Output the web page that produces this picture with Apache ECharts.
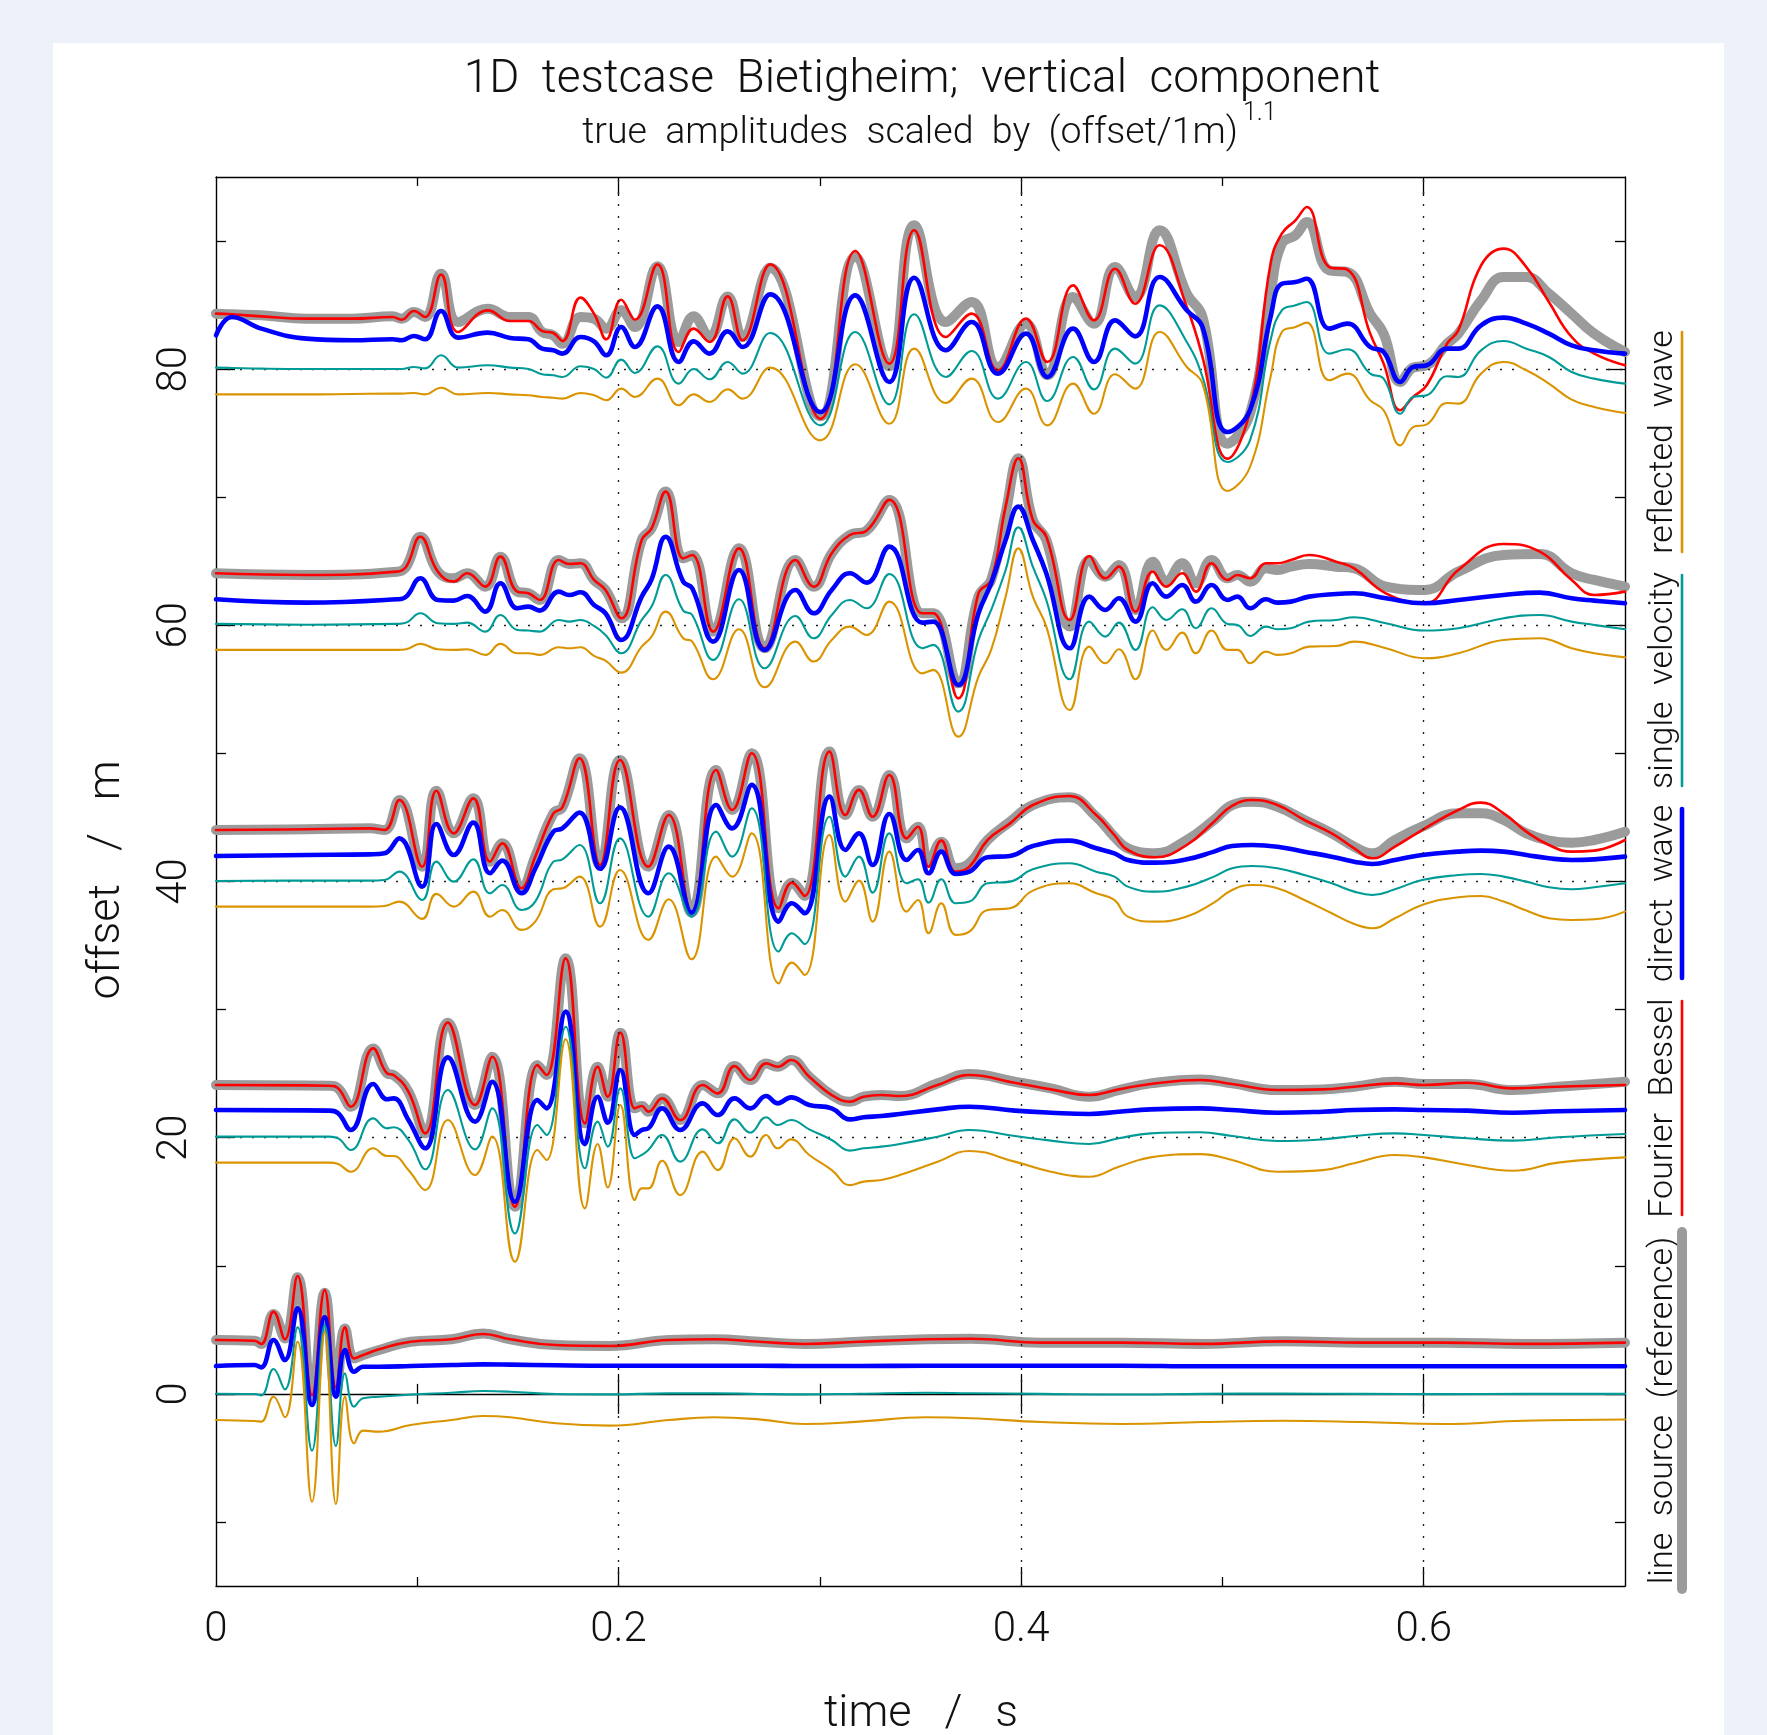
<!DOCTYPE html>
<html><head><meta charset="utf-8">
<script src="https://cdn.jsdelivr.net/npm/echarts@6/dist/echarts.min.js"></script>
<style>html,body{margin:0;padding:0;background:#edf1f9;}#c{width:1767px;height:1735px;}</style>
</head><body><div id="c"></div>
<script>
// ---------------- data (time in s, amplitude relative to trace offset) ----------------
const OFFSETS = [0, 20, 40, 60, 80];
const X_LABELS = [0, 0.2, 0.4, 0.6];
const X_MAJOR = [0.2, 0.4, 0.6];
const X_MINOR = [0.1, 0.3, 0.5];
const Y_LABELS = [0, 20, 40, 60, 80];
const Y_MINOR = [-10, 10, 30, 50, 70, 90];
const GRID_Y = [20, 40, 60, 80];
const GRID_X = [0.2, 0.4, 0.6];

const T0 = [0,0.0191,0.0225,0.0286,0.0342,0.0405,0.0477,0.0540,0.0596,0.0641,0.0686,0.0731,0.0810,0.0967,0.1170,0.1327,0.1462,0.1687,0.1957,0.2249,0.2474,0.2699,0.2924,0.3194,0.3527,0.375,0.41,0.45,0.49,0.53,0.57,0.61,0.65,0.7];
const REF0 = [4.20,4.15,3.89,6.23,4.33,9.10,-0.40,7.90,0.10,5.11,2.77,3.03,3.42,4.07,4.26,4.72,4.26,3.81,3.74,4.20,4.26,4.07,3.89,4.07,4.26,4.3,4.0,4.0,3.9,4.1,4.0,4.0,3.9,4.0];
const FB0 = [4.20,4.15,3.89,6.41,4.26,9.20,-0.10,8.11,0.50,5.19,2.77,3.03,3.48,4.07,4.26,4.67,4.26,3.81,3.74,4.20,4.26,4.07,3.89,4.07,4.26,4.3,4.0,4.0,3.9,4.1,4.0,4.0,3.9,4.0];
const DW0 = [2.17,2.25,2.07,4.20,2.64,6.68,-0.87,5.97,-0.22,3.42,1.73,2.12,2.12,2.17,2.25,2.30,2.28,2.23,2.20,2.20,2.20,2.20,2.17,2.17,2.20,2.2,2.2,2.2,2.15,2.15,2.15,2.15,2.15,2.15];
const SV0 = [0.01,-0.01,-0.12,1.94,0.35,5.19,-4.43,5.37,-4.07,1.60,-1.00,-0.35,-0.22,-0.06,0.09,0.22,0.17,-0.01,-0.04,0.04,0.04,-0.01,-0.04,0.01,0.09,0.05,0.0,-0.05,0.0,0.02,0.0,-0.02,0.0,0.0];
const RW0 = [-2.04,-2.12,-2.17,-0.22,-1.83,4.07,-8.42,4.85,-8.60,-0.22,-3.86,-2.87,-2.95,-2.43,-2.04,-1.73,-1.83,-2.30,-2.48,-2.04,-1.83,-1.99,-2.35,-2.17,-1.83,-1.9,-2.2,-2.35,-2.2,-2.1,-2.2,-2.35,-2.1,-2.0];

const T20 = [0,0.0562,0.0607,0.0670,0.0781,0.0850,0.0882,0.0956,0.1039,0.1152,0.1287,0.1372,0.1485,0.1597,0.1642,0.1737,0.1833,0.1896,0.1946,0.2009,0.2081,0.2115,0.2148,0.2216,0.2306,0.2418,0.2493,0.2576,0.2654,0.2733,0.2790,0.2857,0.2947,0.3059,0.3149,0.3217,0.3306,0.3397,0.3585,0.3743,0.3968,0.4148,0.4339,0.4485,0.4643,0.4890,0.5048,0.5273,0.5498,0.5655,0.5857,0.6004,0.6217,0.6442,0.6667,0.7000];
const REF20 = [4.11,4.06,3.85,2.42,6.97,5.02,4.89,3.59,0.34,8.98,2.55,6.32,-5.39,5.67,4.89,14.00,1.12,5.54,3.20,8.20,2.29,2.47,2.03,3.07,1.38,4.11,3.46,5.59,4.50,5.80,5.54,6.06,4.76,3.33,2.81,3.20,3.33,3.25,4.24,4.97,4.37,3.85,3.20,3.72,4.24,4.55,4.24,3.72,3.77,3.98,4.37,4.19,4.19,3.72,3.98,4.37];
const FB20 = [4.11,4.06,3.85,2.42,6.97,5.02,4.89,3.59,0.34,8.98,2.55,6.32,-5.39,5.67,4.89,14.00,1.12,5.54,3.20,8.20,2.29,2.47,2.03,3.07,1.38,4.11,3.46,5.59,4.50,5.80,5.54,6.06,4.76,3.33,2.81,3.20,3.33,3.25,4.11,4.89,4.29,3.77,3.33,3.77,4.19,4.50,4.19,3.72,3.77,3.98,4.24,4.11,4.29,3.85,3.98,4.11];
const DW20 = [2.16,2.11,1.90,0.60,4.19,3.00,3.07,1.38,-0.83,6.27,1.25,4.37,-5.00,2.94,2.29,9.84,-0.50,3.20,1.17,5.28,0.21,0.60,0.73,2.29,0.60,2.68,1.77,3.07,2.29,3.25,2.68,3.15,2.55,2.29,1.43,1.59,1.69,1.85,2.21,2.42,2.11,1.95,1.85,2.03,2.21,2.29,2.16,1.95,2.03,2.16,2.21,2.16,2.11,1.95,2.06,2.16];
const SV20 = [0.08,0.08,-0.05,-0.96,1.51,0.73,0.81,-0.18,-2.47,3.72,-0.91,2.29,-7.47,0.99,0.21,8.66,-2.39,1.25,-0.70,3.85,-1.61,-1.35,-0.96,0.21,-1.87,0.65,-0.44,1.43,0.39,1.59,0.99,1.38,0.65,-0.18,-1.01,-0.83,-0.70,-0.49,0.08,0.60,0.13,-0.23,-0.49,-0.05,0.34,0.42,0.13,-0.26,-0.13,0.13,0.34,0.21,-0.05,-0.23,0.03,0.29];
const RW20 = [-1.95,-1.95,-2.06,-2.66,-0.83,-1.43,-1.43,-2.53,-4.09,1.38,-2.92,0.08,-9.68,-0.96,-1.74,7.68,-5.52,-0.49,-3.88,2.55,-4.87,-3.96,-3.96,-1.80,-4.48,-1.09,-2.53,-0.05,-1.48,0.21,-0.83,-0.13,-1.35,-2.53,-3.70,-3.43,-3.30,-2.92,-1.87,-1.04,-1.87,-2.66,-3.05,-2.27,-1.54,-1.28,-1.74,-2.66,-2.53,-2.00,-1.35,-1.54,-2.13,-2.58,-1.95,-1.54];

const T40 = [0,0.045,0.0765,0.0837,0.0911,0.1024,0.1095,0.1181,0.1278,0.1361,0.1422,0.1518,0.1586,0.1676,0.1721,0.1806,0.1908,0.2007,0.2148,0.2249,0.2362,0.2485,0.2564,0.2661,0.2796,0.2861,0.2924,0.3048,0.3127,0.3194,0.3262,0.3345,0.3431,0.3487,0.3540,0.3603,0.3675,0.3743,0.3833,0.3945,0.4058,0.4238,0.4373,0.4463,0.4530,0.4665,0.4823,0.4958,0.5048,0.5149,0.5273,0.5407,0.5543,0.5655,0.5745,0.5857,0.5992,0.6172,0.6285,0.6397,0.6510,0.6622,0.6735,0.6847,0.7000];
const REF40 = [4.02,4.08,4.15,4.02,6.36,1.16,7.09,3.76,6.49,1.55,2.98,-0.53,1.94,5.32,5.79,9.62,1.29,9.49,1.16,5.19,-2.43,8.71,5.58,10.01,-2.09,-0.09,-1.13,10.14,5.19,7.15,5.06,8.32,3.37,4.28,1.42,3.11,1.03,1.42,3.24,4.67,5.97,6.57,5.06,3.50,2.59,2.20,3.24,4.80,5.97,6.23,5.84,4.80,3.76,2.72,2.20,3.24,4.28,5.32,5.32,4.80,3.76,3.19,3.03,3.24,3.89];
const FB40 = [4.02,4.08,4.15,4.02,6.36,1.16,7.09,3.76,6.49,1.55,2.98,-0.53,1.94,5.32,5.79,9.62,1.29,9.49,1.16,5.19,-2.43,8.71,5.58,10.01,-2.09,-0.09,-1.13,10.14,5.19,7.15,5.06,8.32,3.37,4.28,1.16,3.19,0.77,1.16,3.24,4.54,5.97,6.68,5.19,3.63,2.46,1.89,2.85,4.67,5.90,6.36,5.97,4.80,3.76,2.59,1.81,2.72,4.02,5.58,6.16,5.32,3.89,2.85,2.33,2.41,3.24];
const DW40 = [1.99,2.07,2.12,2.20,3.37,-0.40,4.49,2.07,4.60,0.64,1.63,-0.92,0.99,3.89,4.15,5.38,0.99,5.79,-0.92,2.72,-2.43,5.97,4.15,7.54,-3.13,-1.70,-2.48,6.63,2.46,3.76,1.29,5.27,1.68,2.46,0.64,2.33,0.59,0.77,1.89,1.99,2.77,3.19,2.59,2.20,1.68,1.47,1.73,2.33,2.77,2.85,2.72,2.33,1.94,1.55,1.37,1.68,2.07,2.33,2.41,2.33,2.07,1.81,1.68,1.73,1.94];
const SV40 = [0.04,0.07,0.07,0.12,0.77,-1.44,1.55,-0.01,1.73,-0.92,-0.27,-2.22,-1.57,1.55,1.73,2.85,-1.70,3.37,-2.74,0.64,-2.74,3.89,1.94,5.71,-5.47,-4.04,-4.88,5.06,0.38,1.94,-0.87,3.76,-0.14,0.17,-1.65,0.17,-1.70,-1.57,-0.14,-0.01,0.95,1.42,0.77,0.38,-0.40,-0.79,-0.40,0.38,1.03,1.21,1.03,0.51,-0.14,-0.79,-1.05,-0.61,0.12,0.51,0.59,0.38,-0.01,-0.45,-0.61,-0.45,-0.14];
const RW40 = [-1.96,-1.96,-1.96,-1.91,-1.57,-2.92,-0.97,-1.96,-0.79,-2.74,-2.22,-3.78,-3.13,-0.61,-0.53,0.38,-3.52,0.90,-4.56,-1.39,-6.07,1.94,0.38,3.76,-7.95,-6.33,-7.30,3.63,-1.57,0.07,-3.13,2.33,-2.35,-1.44,-4.04,-1.70,-4.17,-3.91,-2.22,-2.09,-0.71,-0.14,-0.92,-1.44,-2.74,-3.13,-2.74,-1.65,-0.66,-0.27,-0.53,-1.44,-2.48,-3.32,-3.65,-2.87,-1.83,-1.23,-1.13,-1.57,-2.27,-2.87,-3.00,-2.95,-2.35];

const T60 = [0,0.045,0.09,0.0945,0.1015,0.1102,0.1181,0.1248,0.1338,0.1413,0.1496,0.1552,0.1608,0.1703,0.1755,0.1811,0.1878,0.1935,0.2013,0.2115,0.2164,0.2234,0.2321,0.2366,0.2470,0.2598,0.2726,0.2879,0.2969,0.3059,0.3149,0.3232,0.3345,0.3509,0.3563,0.3687,0.3788,0.3851,0.3923,0.3986,0.4058,0.4125,0.4242,0.4339,0.4418,0.4485,0.4568,0.4654,0.4721,0.4800,0.4868,0.4946,0.5025,0.5075,0.5138,0.5216,0.5273,0.5340,0.5430,0.5565,0.5655,0.5812,0.6004,0.6172,0.6397,0.6577,0.6735,0.6847,0.7000];
const REF60 = [4.06,3.93,4.19,4.58,6.92,4.19,3.67,4.06,3.02,5.36,2.63,2.50,1.98,5.10,4.79,4.84,3.54,2.76,0.55,6.66,7.57,10.44,5.23,5.49,-0.49,6.01,-1.79,5.10,3.02,5.62,7.05,7.39,9.79,0.94,0.94,-4.53,2.24,3.54,8.75,13.04,8.22,6.66,-0.10,5.10,3.80,4.71,1.20,4.97,3.41,4.84,3.28,5.10,3.67,3.93,3.41,4.45,4.32,4.58,4.79,4.58,4.45,3.02,2.76,4.19,5.49,5.57,4.06,3.54,3.02];
const FB60 = [4.06,3.93,4.19,4.58,6.92,4.19,3.41,4.06,3.02,5.36,2.63,2.50,1.98,5.10,4.79,4.84,3.54,2.76,0.55,6.66,7.57,10.44,5.23,5.49,-0.49,6.01,-1.79,5.10,3.02,5.62,7.05,7.39,9.79,0.94,0.94,-5.70,2.50,3.54,9.27,13.04,8.22,6.92,0.42,5.41,3.67,4.58,1.07,4.19,3.02,4.06,2.63,4.84,3.54,3.93,3.67,4.84,4.84,5.10,5.49,4.97,4.45,2.50,1.72,4.32,6.35,5.75,3.54,2.37,2.63];
const DW60 = [2.03,1.77,2.03,2.24,3.67,1.98,1.93,2.29,1.07,3.28,1.33,1.46,1.15,2.63,2.37,2.58,1.59,0.94,-1.14,2.24,3.59,6.92,3.41,2.89,-1.27,4.32,-1.92,2.76,0.94,2.76,4.06,3.33,6.14,0.21,0.29,-4.66,0.94,3.28,6.66,9.27,6.66,4.06,-1.79,2.24,1.20,2.11,0.29,3.28,2.24,3.15,1.85,3.15,1.98,2.24,1.33,2.03,1.77,1.85,2.24,2.45,2.50,2.11,1.72,1.98,2.37,2.55,2.11,1.93,1.72];
const SV60 = [0.11,0.05,0.11,0.21,0.94,0.16,0.11,0.21,-0.49,0.81,-0.36,-0.41,-0.49,0.42,0.29,0.42,-0.05,-0.75,-2.18,0.42,1.46,3.93,1.15,0.81,-2.70,2.03,-3.35,0.73,-1.01,0.81,1.98,1.33,4.01,-1.79,-1.53,-6.74,-1.14,1.20,4.32,7.65,4.58,1.98,-4.21,0.29,-0.88,0.21,-1.92,1.41,0.42,1.25,-0.23,1.33,0.11,0.03,-0.83,-0.10,-0.31,-0.23,0.29,0.42,0.63,0.16,-0.41,-0.23,0.55,0.81,0.29,0.03,-0.31];
const RW60 = [-1.92,-1.92,-1.92,-1.87,-1.45,-1.87,-1.92,-1.87,-2.31,-1.45,-2.18,-2.18,-2.31,-1.71,-1.79,-1.71,-2.39,-2.76,-3.69,-1.66,-0.88,1.07,-1.01,-1.27,-4.21,-0.31,-4.84,-1.27,-2.83,-1.14,-0.10,-0.75,1.85,-3.75,-3.48,-8.69,-4.01,-1.92,2.24,6.01,2.24,-0.10,-6.61,-1.66,-2.96,-1.87,-4.21,-0.41,-1.92,-0.57,-2.18,-0.41,-1.92,-1.92,-2.96,-2.05,-2.31,-2.18,-1.66,-1.61,-1.27,-1.79,-2.57,-2.18,-1.14,-1.01,-1.79,-2.18,-2.50];

const T80 = [0,0.0079,0.0225,0.045,0.0675,0.0877,0.0922,0.0983,0.1039,0.1118,0.1203,0.135,0.1462,0.1552,0.162,0.1676,0.1721,0.1811,0.1878,0.1939,0.2013,0.2081,0.2193,0.2299,0.2373,0.2452,0.2542,0.2616,0.2753,0.3003,0.3176,0.3345,0.3469,0.3626,0.3754,0.3885,0.4024,0.4130,0.4258,0.4362,0.4467,0.4566,0.4688,0.4823,0.4901,0.5025,0.5137,0.5239,0.5295,0.5363,0.5419,0.5531,0.5621,0.5734,0.5801,0.5884,0.5947,0.6015,0.6116,0.6172,0.6285,0.6397,0.6510,0.6622,0.6735,0.6847,0.7000];
const REF80 = [4.33,4.28,4.20,3.94,3.94,4.12,3.94,4.46,4.07,7.45,3.68,4.72,4.07,4.07,2.90,2.64,1.99,4.07,3.94,3.16,4.59,3.29,8.03,2.12,4.12,2.51,5.68,2.51,7.92,-3.68,8.75,0.22,11.23,3.68,5.24,0.17,3.55,-0.48,5.63,3.55,7.97,5.63,10.84,5.89,4.07,-5.82,-3.48,5.89,9.80,10.45,11.49,7.71,7.58,4.33,2.77,-1.00,0.12,0.30,1.99,2.77,5.37,7.19,7.19,5.89,4.33,2.77,1.34];
const FB80 = [4.33,4.28,4.12,3.94,3.94,4.07,3.86,4.54,4.07,7.38,2.90,4.59,3.76,3.76,2.98,2.82,2.20,5.58,4.33,2.33,5.42,3.86,8.18,1.34,3.16,2.12,5.68,2.25,8.18,-3.87,9.22,0.43,10.84,2.51,4.33,-0.09,3.94,0.56,6.54,3.81,7.84,5.11,9.67,4.85,0.95,-6.99,-3.21,8.23,10.58,11.62,12.66,7.97,7.77,2.77,0.43,-3.21,-2.17,-1.26,1.99,3.03,8.10,9.41,7.97,5.24,2.51,1.21,0.30];
const DW80 = [2.64,4.07,3.16,2.38,2.25,2.33,2.25,2.59,2.33,4.54,2.46,2.85,2.43,2.33,1.60,1.47,1.21,2.51,2.17,1.08,3.29,1.73,4.90,0.56,2.17,1.21,2.95,1.73,5.84,-3.35,5.76,-1.00,7.14,1.47,3.68,-0.35,2.77,-0.61,3.16,0.56,3.81,2.56,7.19,4.59,3.29,-4.91,-3.21,4.07,6.67,6.80,7.06,3.16,3.55,1.73,1.34,-1.00,0.17,0.30,1.60,1.60,3.42,4.02,3.55,2.77,1.86,1.47,1.21];
const SV80 = [0.12,0.09,0.04,0.01,0.01,0.01,0.01,0.17,0.06,1.08,0.12,0.30,0.12,0.01,-0.40,-0.48,-0.61,0.22,0.01,-0.66,0.74,-0.30,1.78,-1.13,0.01,-0.79,0.56,-0.35,2.82,-4.39,2.90,-2.75,4.28,-0.61,1.42,-2.30,0.56,-2.49,0.95,-1.58,1.60,0.43,4.98,2.12,-0.61,-7.25,-5.56,2.25,4.59,4.98,5.24,1.21,1.55,-0.35,-0.74,-3.48,-2.17,-2.04,-0.56,-0.61,1.47,2.20,1.60,0.95,-0.22,-0.74,-1.13];
const RW80 = [-1.97,-1.97,-1.97,-1.97,-1.94,-1.91,-1.91,-1.86,-1.97,-1.45,-1.97,-1.86,-1.97,-2.04,-2.17,-2.23,-2.30,-1.86,-2.04,-2.43,-1.52,-2.17,-0.74,-2.82,-1.97,-2.56,-1.58,-2.30,0.12,-5.56,0.38,-4.26,1.60,-2.64,-0.74,-4.13,-1.52,-4.39,-1.13,-3.48,-0.40,-1.52,2.90,0.17,-1.13,-9.51,-7.64,-0.61,2.90,3.29,3.63,-0.87,-0.35,-2.43,-3.21,-5.95,-4.52,-4.31,-2.64,-2.69,-0.35,0.56,-0.09,-1.13,-2.38,-2.95,-3.42];

const TIMES = [T0, T20, T40, T60, T80];
const CURVES = {
  ref: [REF0, REF20, REF40, REF60, REF80],
  fb:  [FB0, FB20, FB40, FB60, FB80],
  dw:  [DW0, DW20, DW40, DW60, DW80],
  sv:  [SV0, SV20, SV40, SV60, SV80],
  rw:  [RW0, RW20, RW40, RW60, RW80]
};
const LEGEND = [
  {key:'ref', label:'line  source  (reference)'},
  {key:'fb',  label:'Fourier  Bessel'},
  {key:'dw',  label:'direct  wave'},
  {key:'sv',  label:'single  velocity'},
  {key:'rw',  label:'reflected  wave'}
];
const TITLE = '1D  testcase  Bietigheim;  vertical  component';
const SUBTITLE = 'true  amplitudes  scaled  by  (offset/1m)';
const SUBTITLE_EXP = '1.1';
const X_NAME = 'time   /   s';
const Y_NAME = 'offset   /   m';

// ---------------- styles ----------------
const STYLE = {
  ref: {color:'#9b9b9b', width:10, z:2},
  fb:  {color:'#ff0000', width:2.6, z:3},
  dw:  {color:'#0000ff', width:4.6, z:4},
  sv:  {color:'#009b96', width:2.1, z:5},
  rw:  {color:'#d99400', width:2.1, z:5}
};
const FONT = 'Roboto, Lato, "DejaVu Sans", sans-serif';
const FW = 300;
const INK = '#111';

const series = [];
LEGEND.forEach(function (c) {
  OFFSETS.forEach(function (off, k) {
    const t = TIMES[k], v = CURVES[c.key][k];
    const st = STYLE[c.key];
    series.push({
      type:'line', name:c.label, xAxisIndex:0, yAxisIndex:0,
      data: t.map(function (x, i) { return [x, off + v[i]]; }),
      showSymbol:false, symbol:'none', smooth:0.45, silent:true, z:st.z,
      lineStyle:{color:st.color, width:st.width, cap:'round', join:'round'}
    });
  });
});
// dotted guide lines
series[0].markLine = {
  silent:true, symbol:'none', label:{show:false}, animation:false,
  lineStyle:{color:'#222', width:1.4, type:[2, 10]},
  data: GRID_Y.map(function (y) { return {yAxis:y}; }).concat(GRID_X.map(function (x) { return {xAxis:x}; }))
};

const tickStyle = {color:'#000', width:1.3};
function xAx(pos, inside, len, vals, extra) {
  return Object.assign({
    type:'value', min:0, max:0.7, position:pos,
    axisLine:{show:false, onZero:false},
    axisTick:{show:true, inside:inside, length:len, customValues:vals, lineStyle:tickStyle},
    axisLabel:{show:false}, splitLine:{show:false}
  }, extra || {});
}
function yAx(pos, inside, len, vals, extra) {
  return Object.assign({
    type:'value', min:-15, max:95, position:pos,
    axisLine:{show:false, onZero:false},
    axisTick:{show:true, inside:inside, length:len, customValues:vals, lineStyle:tickStyle},
    axisLabel:{show:false}, splitLine:{show:false}
  }, extra || {});
}
const frameLine = {show:true, onZero:false, lineStyle:{color:'#000', width:1.4}};
const zeroLine = {show:true, onZero:true, onZeroAxisIndex:0, lineStyle:{color:'#000', width:1.3}};
const labelStyle = {fontFamily:FONT, fontWeight:FW, fontSize:42, color:INK};

const option = {
  backgroundColor:'#edf1f9',
  animation:false,
  grid:{left:216, top:177, width:1409, height:1409, containLabel:false},
  xAxis:[
    xAx('bottom', true, 19, X_MAJOR, {axisLine:frameLine,
      axisLabel:Object.assign({show:true, customValues:X_LABELS, margin:23}, labelStyle)}),
    xAx('bottom', true, 9, X_MINOR),
    xAx('top', true, 19, X_MAJOR, {axisLine:frameLine}),
    xAx('top', true, 9, X_MINOR),
    xAx('bottom', true, 20, X_MAJOR, {axisLine:zeroLine}),
    xAx('bottom', false, 20, X_MAJOR, {axisLine:{show:false, onZero:true, onZeroAxisIndex:0}}),
    xAx('bottom', true, 10, X_MINOR, {axisLine:{show:false, onZero:true, onZeroAxisIndex:0}}),
    xAx('bottom', false, 10, X_MINOR, {axisLine:{show:false, onZero:true, onZeroAxisIndex:0}})
  ],
  yAxis:[
    yAx('left', true, 19, Y_LABELS, {axisLine:frameLine,
      axisLabel:Object.assign({show:true, customValues:Y_LABELS, rotate:90, margin:20}, labelStyle)}),
    yAx('left', true, 10, Y_MINOR),
    yAx('right', true, 19, Y_LABELS, {axisLine:frameLine}),
    yAx('right', true, 10, Y_MINOR)
  ],
  series:series
};

// ---------------- texts, card, legend ----------------
const gfx = [
  {type:'rect', z:-10, shape:{x:53, y:43, width:1671, height:1720}, style:{fill:'#ffffff'}},
  {type:'text', x:922, y:80, style:{text:TITLE, fontFamily:FONT, fontWeight:FW, fontSize:46, fill:INK, textAlign:'center', textVerticalAlign:'middle'}},
  {type:'text', x:1238, y:134, style:{text:SUBTITLE, fontFamily:FONT, fontWeight:FW, fontSize:37.5, fill:INK, textAlign:'right', textVerticalAlign:'middle'}},
  {type:'text', x:1243, y:114, style:{text:SUBTITLE_EXP, fontFamily:FONT, fontWeight:FW, fontSize:25, fill:INK, textAlign:'left', textVerticalAlign:'middle'}},
  {type:'text', x:921, y:1715, style:{text:X_NAME, fontFamily:FONT, fontWeight:FW, fontSize:45, fill:INK, textAlign:'center', textVerticalAlign:'middle'}},
  {type:'text', x:108, y:880, rotation:Math.PI/2, style:{text:Y_NAME, fontFamily:FONT, fontWeight:FW, fontSize:45, fill:INK, textAlign:'center', textVerticalAlign:'middle'}}
];
const legendPos = {ref:[1232,1589], fb:[1001,1215], dw:[809,978], sv:[575,786], rw:[332,552]};
LEGEND.forEach(function (c) {
  const p = legendPos[c.key], st = STYLE[c.key];
  gfx.push({type:'text', x:1663, y:(p[0]+p[1])/2, rotation:Math.PI/2,
    style:{text:c.label, fontFamily:FONT, fontWeight:FW, fontSize:34, fill:INK, textAlign:'center', textVerticalAlign:'middle'}});
  gfx.push({type:'line', shape:{x1:1682, y1:p[0], x2:1682, y2:p[1]},
    style:{stroke:st.color, lineWidth:Math.max(st.width, 2.6), lineCap:'round'}});
});
option.graphic = {elements:gfx};

const chart = echarts.init(document.getElementById('c'), null, {renderer:'canvas'});
chart.setOption(option);
</script></body></html>
